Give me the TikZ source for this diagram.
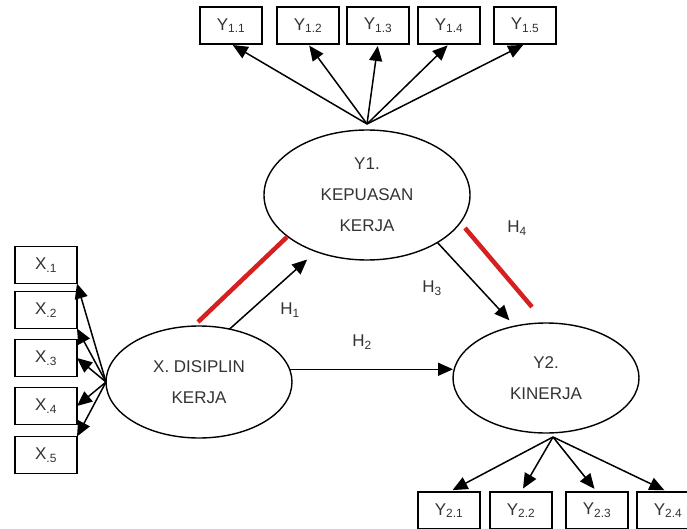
\documentclass[tikz,border=0pt]{standalone}
\usepackage{fontspec}
\setmainfont{Liberation Sans}
\usetikzlibrary{arrows.meta,calc,shapes.geometric}
\definecolor{hred}{RGB}{214,32,32}
\begin{document}
\begin{tikzpicture}[x=1pt,y=-1pt,inner sep=0pt,outer sep=0pt,
font=\fontsize{17}{31}\selectfont,text=black!80,
ind/.style={draw=black,rectangle,minimum width=62pt,minimum height=37pt,line width=1.8pt},
lat/.style={draw=black,ellipse,line width=1.4pt,align=center},
arr/.style={-{Triangle[length=15pt,width=13pt]},line width=1.5pt},
hyp/.style={hred,line width=4.5pt}]
\useasboundingbox (0,0) rectangle (687,529);
\clip (0,0) rectangle (687,529);
% latent variables
\draw (367,195) node[lat,minimum width=206pt,minimum height=130pt] (y1) {Y1.\\KEPUASAN\\KERJA};
\draw (199,382) node[lat,minimum width=186pt,minimum height=112pt] (x) {X. DISIPLIN\\KERJA};
\draw (546,378) node[lat,minimum width=186pt,minimum height=110pt] (y2) {Y2.\\KINERJA};
% indicators
\foreach \i/\xx in {1/231,2/308,3/378,4/449,5/525}
  \draw (\xx,25.5) node[ind] (y1\i) {Y\textsubscript{1.\i}};
\foreach \i/\yy in {1/265,2/310,3/358,4/406,5/455}
  \draw (46,\yy) node[ind] (x\i) {X\textsubscript{.\i}};
\foreach \i/\xx in {1/449,2/521,3/597,4/668}
  \draw (\xx,510.5) node[ind] (y2\i) {Y\textsubscript{2.\i}};
\coordinate (y1top) at ($(y1.north)+(0,-6)$);
\coordinate (y2bot) at ($(y2.south)+(7,4)$);
\foreach \i in {1,...,5}
  \draw[arr,shorten >=2pt] (y1top) -- (y1\i.south);
\foreach \i in {1,...,4}
  \draw[arr,shorten >=4pt] (y2bot) -- (y2\i.north);
\draw[arr] (x.west) -- (x1.south east);
\draw[arr] (x.west) -- (x2.south east);
\draw[arr] (x.west) -- (x3.east);
\draw[arr] (x.west) -- (x4.east);
\draw[arr] (x.west) -- (x5.north east);
% hypotheses
\draw[arr,shorten >=12pt] (x.60) -- (y1.228);
\draw[arr] (x.8) -- (x.8 -| y2.west);
\draw[arr,shorten >=8pt] (y1.-34) -- (y2.121);
\draw[hyp] (198,322) -- (287,237);
\draw[hyp] (465,228) -- (532,307);
\draw (290,310) node (h1) {H\textsubscript{1}};
\draw (362,342) node (h2) {H\textsubscript{2}};
\draw (432,288) node (h3) {H\textsubscript{3}};
\draw (517,228) node (h4) {H\textsubscript{4}};
\end{tikzpicture}
\end{document}
